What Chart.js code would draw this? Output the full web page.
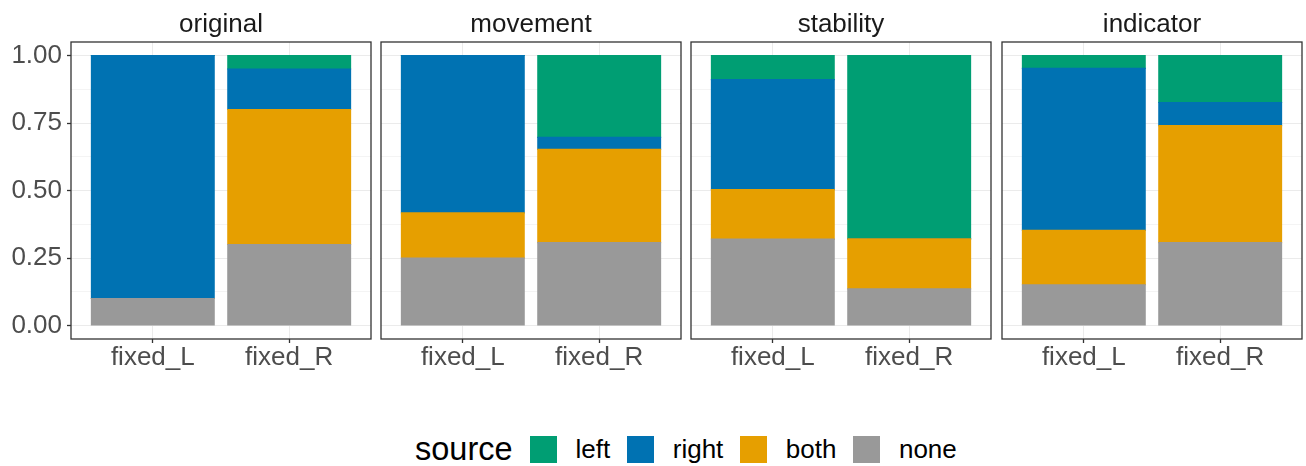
<!DOCTYPE html>
<html>
<head>
<meta charset="utf-8">
<title>source by facet</title>
<script src="https://cdn.jsdelivr.net/npm/chart.js@4.4.0/dist/chart.umd.min.js"></script>
<style>
  body { margin: 0; background: #fff; }
  #wrap { position: relative; width: 1306px; height: 466px; overflow: hidden; font-family: "Liberation Sans", Arial, sans-serif; }
  #wrap canvas { position: absolute; top: 0; }
  #legend { position: absolute; left: 415px; top: 436px; height: 27px; display: flex; align-items: center; color: #000; }
  #legend .title { font-size: 32.5px; margin-right: 17px; }
  #legend .key { width: 27px; height: 27px; margin-right: 19px; }
  #legend .lab { font-size: 26px; margin-right: 16.5px; }
</style>
</head>
<body>
<div id="wrap">
  <canvas id="c0"></canvas>
  <canvas id="c1"></canvas>
  <canvas id="c2"></canvas>
  <canvas id="c3"></canvas>
  <div id="legend"></div>
</div>
<script>
// Datos del gráfico
const facets = ['original', 'movement', 'stability', 'indicator'];
const categories = ['fixed_L', 'fixed_R'];

// una fila por panel: [fixed_L, fixed_R]
const noneShare  = [[0.10, 0.30], [0.25, 0.307], [0.32, 0.136], [0.151, 0.307]];
const bothShare  = [[0.00, 0.50], [0.167, 0.345], [0.183, 0.185], [0.201, 0.433]];
const rightShare = [[0.90, 0.15], [0.583, 0.045], [0.408, 0.00], [0.60, 0.086]];
const leftShare  = [[0.00, 0.05], [0.00, 0.303], [0.089, 0.679], [0.048, 0.174]];

const yTickValues = [0, 0.25, 0.5, 0.75, 1];
const yTickLabels = ['0.00', '0.25', '0.50', '0.75', '1.00'];
const yMinorValues = [0.125, 0.375, 0.625, 0.875];

// orden de apilado: de abajo hacia arriba
const series = [
    { name: 'none',  values: noneShare,  color: '#999999' },
    { name: 'both',  values: bothShare,  color: '#E69F00' },
    { name: 'right', values: rightShare, color: '#0072B2' },
    { name: 'left',  values: leftShare,  color: '#009E73' }
];
const legendOrder = ['left', 'right', 'both', 'none'];

const FONT = '"Liberation Sans", Arial, sans-serif';
const panelLeft = [71, 381, 691, 1002];
const panelWidth = 300;
const canvasHeight = 380;

function isMajor(v) {
    return yTickValues.some(t => Math.abs(t - v) < 1e-6);
}

// Borde del panel
const panelBorder = {
    id: 'panelBorder',
    afterDraw(chart) {
        const a = chart.chartArea;
        const ctx = chart.ctx;
        ctx.save();
        ctx.strokeStyle = '#333333';
        ctx.lineWidth = 1.3;
        ctx.strokeRect(a.left, a.top, a.right - a.left, a.bottom - a.top);
        ctx.restore();
    }
};

function buildFacet(i) {
    const canvas = document.getElementById('c' + i);
    const axisW = i === 0 ? 71 : 4;
    canvas.width = axisW + panelWidth + 2;
    canvas.height = canvasHeight;
    canvas.style.left = (panelLeft[i] - axisW) + 'px';

    const datasets = series.map(s => ({
        label: s.name,
        data: categories.map((c, j) => ({ x: j + 1, y: s.values[i][j] })),
        backgroundColor: s.color,
        borderWidth: 0,
        inflateAmount: 0.6,
        barPercentage: 0.9,
        categoryPercentage: 1,
        stack: 'all'
    }));

    new Chart(canvas, {
        type: 'bar',
        data: { datasets: datasets },
        options: {
            responsive: false,
            animation: false,
            layout: { padding: { left: 0, right: 2, top: 0, bottom: 0 } },
            plugins: {
                legend: { display: false },
                tooltip: { enabled: false },
                title: {
                    display: true,
                    text: facets[i],
                    fullSize: false,
                    color: '#1A1A1A',
                    font: { family: FONT, size: 26, weight: 'normal', lineHeight: 1.2 },
                    padding: { top: 9.5, bottom: 1.3 }
                }
            },
            scales: {
                x: {
                    type: 'linear',
                    min: 0.4,
                    max: 2.6,
                    offset: false,
                    stacked: true,
                    afterBuildTicks: scale => {
                        scale.ticks = categories.map((c, j) => ({ value: j + 1 }));
                    },
                    afterFit: scale => { scale.height = canvasHeight - 339; },
                    ticks: {
                        autoSkip: false,
                        maxRotation: 0,
                        padding: 1.5,
                        color: '#4D4D4D',
                        font: { family: FONT, size: 26, lineHeight: 1 },
                        callback: v => categories[Math.round(v) - 1]
                    },
                    grid: { offset: false, color: '#EBEBEB', lineWidth: 1, tickLength: 4, tickColor: '#333333', tickWidth: 1.3 },
                    border: { display: false }
                },
                y: {
                    min: -0.05,
                    max: 1.05,
                    stacked: true,
                    afterBuildTicks: scale => {
                        scale.ticks = yTickValues.concat(yMinorValues).sort((a, b) => a - b).map(v => ({ value: v }));
                    },
                    afterFit: scale => { scale.width = axisW; },
                    ticks: {
                        display: i === 0,
                        padding: 5,
                        color: '#4D4D4D',
                        font: { family: FONT, size: 26 },
                        callback: v => {
                            const k = yTickValues.findIndex(t => Math.abs(t - v) < 1e-6);
                            return k >= 0 ? yTickLabels[k] : '';
                        }
                    },
                    grid: {
                        color: ctx => isMajor(ctx.tick.value) ? '#EBEBEB' : '#F4F4F4',
                        lineWidth: 1,
                        drawTicks: i === 0,
                        tickLength: 4,
                        tickWidth: 1.3,
                        tickColor: ctx => isMajor(ctx.tick.value) ? '#333333' : 'rgba(0,0,0,0)'
                    },
                    border: { display: false }
                }
            }
        },
        plugins: [panelBorder]
    });
}

function buildLegend() {
    const box = document.getElementById('legend');
    const t = document.createElement('span');
    t.className = 'title';
    t.textContent = 'source';
    box.appendChild(t);
    legendOrder.forEach(name => {
        const s = series.find(x => x.name === name);
        const k = document.createElement('span');
        k.className = 'key';
        k.style.background = s.color;
        box.appendChild(k);
        const l = document.createElement('span');
        l.className = 'lab';
        l.textContent = name;
        box.appendChild(l);
    });
}

document.addEventListener('DOMContentLoaded', function() {
    facets.forEach((f, i) => buildFacet(i));
    buildLegend();
});
</script>
</body>
</html>
